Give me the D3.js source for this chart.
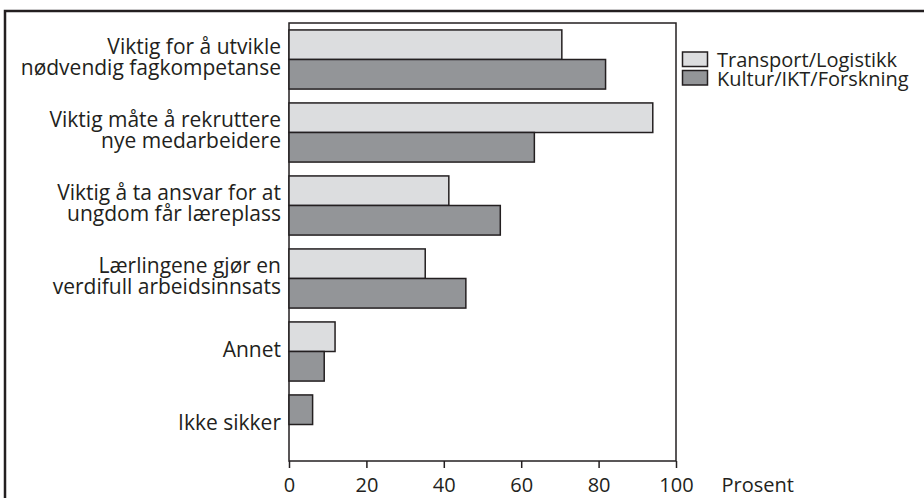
<!DOCTYPE html>
<html><head><meta charset="utf-8">
<script src="https://cdn.jsdelivr.net/npm/d3@7"></script>
<style>body{margin:0;background:#fff}svg{display:block}text{font-family:"Open Sans",sans-serif;fill:#231f20}</style>
</head><body><svg id="c" width="924" height="498"></svg>
<script>
const categories = [
  ["Viktig for å utvikle","nødvendig fagkompetanse"],
  ["Viktig måte å rekruttere","nye medarbeidere"],
  ["Viktig å ta ansvar for at","ungdom får læreplass"],
  ["Lærlingene gjør en","verdifull arbeidsinnsats"],
  ["Annet"],
  ["Ikke sikker"]
];
const seriesNames = ["Transport/Logistikk","Kultur/IKT/Forskning"];
const transport = [70.5, 94.0, 41.3, 35.2, 11.9, null];
const kultur = [81.8, 63.4, 54.6, 45.7, 9.1, 6.1];
const xTicks = [0,20,40,60,80,100];
const colors = ["#dcdddf","#939598"];

const svg = d3.select("#c");
const ink = "#231f20";
const L=289, R=676, T=23, B=461;

// outer frame
svg.append("rect").attr("x",5).attr("y",11).attr("width",940).attr("height",520)
  .attr("fill","none").attr("stroke",ink).attr("stroke-width",2.5);

const x = d3.scaleLinear().domain([0,100]).range([L,R]);
const y = d3.scaleBand().domain(d3.range(categories.length)).range([T,B]).paddingInner(0.19).paddingOuter(0.095);
const inner = d3.scaleBand().domain([0,1]).range([0,y.bandwidth()]);

// plot box
svg.append("rect").attr("x",L).attr("y",T).attr("width",R-L).attr("height",B-T)
  .attr("fill","none").attr("stroke",ink).attr("stroke-width",1.5);

const bars=[];
categories.forEach((c,i)=>{
  const vals=[transport[i],kultur[i]];
  let slot=0;
  vals.forEach((v,s)=>{
    if(v==null) return;
    bars.push({i,s,v,slot:slot++});
  });
});
svg.append("g").selectAll("rect").data(bars).join("rect")
  .attr("x",x(0)).attr("y",d=>y(d.i)+inner(d.slot))
  .attr("width",d=>x(d.v)-x(0)).attr("height",inner.bandwidth())
  .attr("fill",d=>colors[d.s]).attr("stroke",ink).attr("stroke-width",1.5);

// category labels
const lab = svg.append("g");
categories.forEach((lines,i)=>{
  const cy = y(i)+y.bandwidth()/2;
  const lh = 21.5;
  const t = lab.append("text").attr("text-anchor","end").attr("font-size",21);
  lines.forEach((ln,k)=>{
    t.append("tspan").attr("x",281).attr("y",cy - (lines.length-1)*lh/2 + k*lh + 5).text(ln);
  });
});

// x axis
const ax = svg.append("g").attr("transform",`translate(0,${B})`)
  .call(d3.axisBottom(x).tickValues(xTicks).tickSize(7).tickPadding(9.5).tickFormat(d3.format("d")));
ax.select(".domain").remove();
ax.selectAll("line").attr("stroke",ink).attr("stroke-width",1.5);
ax.selectAll("text").attr("font-size",20).attr("fill",ink).attr("font-family","Open Sans");
svg.append("text").attr("x",721.5).attr("y",491.7).attr("font-size",20).text("Prosent");

// legend
seriesNames.forEach((n,k)=>{
  const yy = 52 + k*18.5;
  svg.append("rect").attr("x",682.5).attr("y",yy).attr("width",25).attr("height",14.5)
    .attr("fill",colors[k]).attr("stroke",ink).attr("stroke-width",1.5);
  svg.append("text").attr("x",717).attr("y",yy+15).attr("font-size",20).text(n);
});
</script></body></html>
